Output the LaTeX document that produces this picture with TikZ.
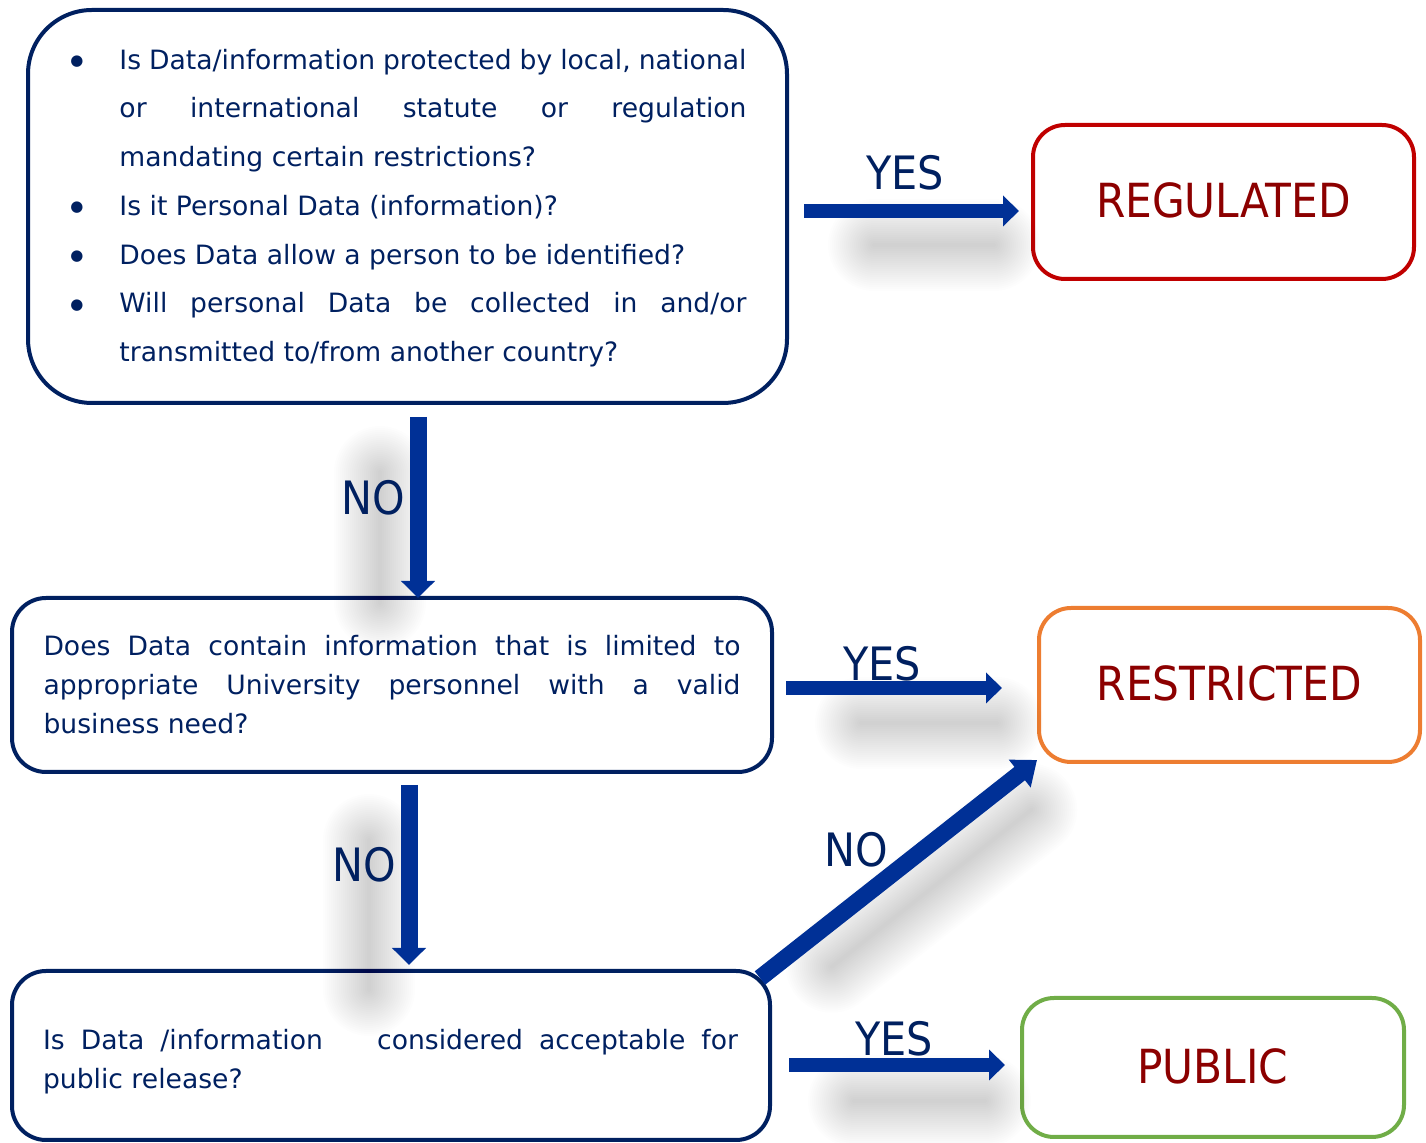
\documentclass[tikz,border=0pt]{standalone}
\usepackage{fontspec}
\setmainfont{DejaVu Sans}
\newfontfamily\condfont{DejaVu Sans Condensed}
\usetikzlibrary{arrows.meta,calc}
\definecolor{navy}{RGB}{0,32,96}
\definecolor{arrowblue}{RGB}{0,48,150}
\definecolor{regred}{RGB}{192,0,0}
\definecolor{resorange}{RGB}{237,125,49}
\definecolor{pubgreen}{RGB}{112,173,71}
\definecolor{labelred}{RGB}{140,0,0}
\newcommand\justsp{\spaceskip=0.318em plus 6em minus 0.12em\relax}
\newcommand\bul{\makebox[25.5pt][l]{\hspace{1pt}\raisebox{1.8pt}{\fontsize{7.5}{8}\selectfont ●}}}
% lines of the bulleted box: #1 = lead (bullet or space), #2 = s (justified) or l, #3 = text
\newcommand\bline[3]{\noindent#1\makebox[313.5pt][#2]{#3}\par}
% lines of the plain boxes
\newcommand\pline[3]{\noindent\makebox[#1][#2]{#3}\par}
\newcommand\softshadow[2]{\foreach \w in {46pt,44pt,...,2pt}{\draw[line width=\w, black, opacity=0.0095, line cap=round] #1 -- #2;}}
\tikzset{
  qbox/.style={draw=navy, line width=2pt, outer sep=0pt, inner sep=0pt, rounded corners=#1},
  qbox/.default=16pt,
  cbox/.style={line width=2pt, outer sep=0pt, inner sep=0pt, rounded corners=16pt,
    minimum width=190.5pt, minimum height=77pt, text=labelred,
    font=\condfont\fontsize{23.5}{28}\selectfont},
  qfont/.style={text=navy, font=\fontsize{13.3}{#1}\selectfont},
  harrow/.style={draw=arrowblue, line width=7pt, -{Triangle[length=8pt,width=15pt]}},
  varrow/.style={draw=arrowblue, line width=8.5pt, -{Triangle[length=8.5pt,width=16.5pt]}},
  darrow/.style={draw=arrowblue, line width=8.5pt, -{Triangle[length=11pt,width=17pt]}},
  lbl/.style={text=navy, inner sep=0pt, font=\condfont\fontsize{23}{27}\selectfont},
}
\begin{document}
\begin{tikzpicture}[x=0.5pt,y=-0.5pt]
\useasboundingbox (0,0) rectangle (1426,1143);
% boxes
\node[qbox=32pt, minimum width=379.5pt, minimum height=196.5pt] (b1) at (407.5,206.5) {};
\node[text width=339pt, inner sep=0pt, qfont=24.35pt] (t1) at (407.5,208) {\justsp
\bline{\bul}{s}{Is Data/information protected by local, national}
\bline{\hspace*{25.5pt}}{s}{or international statute or regulation}
\bline{\hspace*{25.5pt}}{l}{mandating certain restrictions?}
\bline{\bul}{l}{Is it Personal Data (information)?}
\bline{\bul}{l}{Does Data allow a person to be identified?}
\bline{\bul}{s}{Will personal Data be collected in and/or}
\bline{\hspace*{25.5pt}}{l}{transmitted to/from another country?}};
\node[qbox=17pt, minimum width=380pt, minimum height=87pt, text width=348.5pt, qfont=19.5pt] (b2) at (392,685) {\justsp
\pline{348.5pt}{s}{Does Data contain information that is limited to}
\pline{348.5pt}{s}{appropriate University personnel with a valid}
\pline{348.5pt}{l}{business need?}};
\node[qbox=17pt, minimum width=379pt, minimum height=84.5pt] (b3) at (391,1055.5) {};
\node[text width=347.5pt, inner sep=0pt, qfont=19.5pt] (t3) at (390.5,1061.5) {\justsp
\pline{347.5pt}{s}{Is Data /information\hspace{19pt} considered acceptable for}
\pline{347.5pt}{l}{public release?}};
\node[cbox, draw=regred] (reg) at (1223.5,202) {\raisebox{1.5pt}{REGULATED}};
\node[cbox, draw=resorange] (res) at (1229.5,685) {\raisebox{1.5pt}{RESTRICTED}};
\node[cbox, draw=pubgreen, minimum width=191pt, minimum height=69.5pt] (pub) at (1213,1067.5) {\raisebox{1pt}{PUBLIC}};
% arrow end points
\coordinate (a1s) at ($(b1.east)+(17,4.5)$);
\coordinate (a1e) at ($(reg.west)+(-14,9)$);
\coordinate (a2s) at ($(b1.south)+(10.5,14)$);
\coordinate (a2e) at (a2s |- b2.north);
\coordinate (a3s) at ($(b2.east)+(14,3)$);
\coordinate (a3e) at ($(res.west)+(-37,3)$);
\coordinate (a4s) at ($(b2.south)+(17,13)$);
\coordinate (a4e) at ($(a4s |- b3.north)+(0,-6)$);
\coordinate (a5s) at ($(b3.north east)+(-10,7)$);
\coordinate (a5e) at ($(res.south west)+(-2,-2)$);
\coordinate (a6s) at ($(b3.east)+(19,9.5)$);
\coordinate (a6e) at ($(pub.west)+(-17,-2.5)$);
% shadows
\softshadow{($(a1s)+(70,34)$)}{($(a1e)+(-25,34)$)}
\softshadow{($(a2s)+(-38,55)$)}{($(a2e)+(-38,5)$)}
\softshadow{($(a3s)+(75,35)$)}{($(a3e)+(-5,35)$)}
\softshadow{($(a4s)+(-40,55)$)}{($(a4e)+(-40,25)$)}
\softshadow{($(a5s)!0.18!(a5e)+(22,28)$)}{($(a5s)!0.9!(a5e)+(22,28)$)}
\softshadow{($(a6s)+(65,36)$)}{($(a6e)+(-20,36)$)}
% arrows
\draw[harrow] (a1s) -- (a1e);
\draw[varrow] (a2s) -- (a2e);
\draw[harrow] (a3s) -- (a3e);
\draw[varrow] (a4s) -- (a4e);
\draw[darrow] (a5s) -- (a5e);
\draw[harrow] (a6s) -- (a6e);
% labels
\node[lbl] (l1) at (905,173) {YES};
\node[lbl] (l2) at (373,498) {NO};
\node[lbl] (l3) at (882,664) {YES};
\node[lbl] (l4) at (364,865) {NO};
\node[lbl] (l5) at (856,850) {NO};
\node[lbl] (l6) at (894,1039) {YES};
\end{tikzpicture}
\end{document}
